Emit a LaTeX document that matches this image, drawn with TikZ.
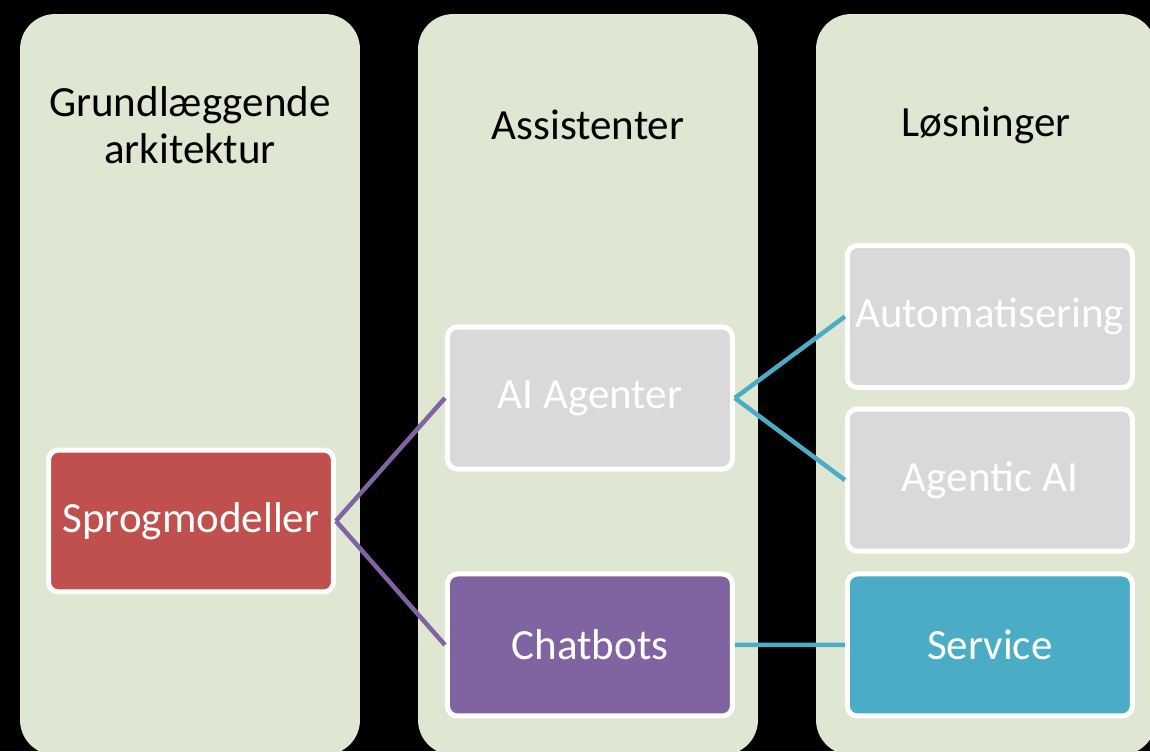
\documentclass[tikz,border=0pt]{standalone}
\usepackage{fontspec}
\setmainfont{Carlito}
\usetikzlibrary{positioning}
\definecolor{fondo}{RGB}{223,231,210}
\definecolor{rojo}{RGB}{192,80,77}
\definecolor{morado}{RGB}{128,100,162}
\definecolor{turquesa}{RGB}{75,172,198}
\definecolor{gris}{RGB}{217,217,217}
\tikzset{
	x=0.02cm, y=-0.02cm, % Un pixel de la imagen
	node distance=3cm, % Distancia entre nodos
	columna/.style={fill=fondo, rounded corners=0.7cm, minimum width=6.8cm, minimum height=14.82cm}, % Columnas de fondo
	titulo/.style={align=center, text=black, font=\fontsize{24.5}{27}\selectfont}, % Titulos de las columnas
	caja/.style={draw=white, line width=0.1cm, rounded corners=0.2cm, minimum width=5.7cm, minimum height=2.84cm, text=white, font=\fontsize{24.5}{27}\selectfont}, % Cajas
	enlace/.style={line width=0.09cm} % Lineas entre cajas
}

\begin{document}
\begin{tikzpicture}
	\path[use as bounding box, fill=black] (0,0) rectangle (1150,751);
	\node[columna] (col1) at (190,384.5) {};
	\node[columna] (col2) at (588,384.5) {};
	\node[columna] (col3) at (986,384.5) {};
	\node[titulo] (t1) at (190,125) {Grundlæggende\\arkitektur};
	\node[titulo] (t2) at (588,125) {Assistenter};
	\node[titulo] (t3) at (986,125) {Løsninger};
	\node[caja, fill=rojo] (sprog) at (191,521) {Sprogmodeller};
	\node[caja, fill=gris, on grid, above right=2.46cm and 7.98cm of sprog] (agenter) {AI Agenter};
	\node[caja, fill=morado, on grid, below=4.94cm of agenter] (chat) {Chatbots};
	\node[caja, fill=gris, on grid, above right=1.63cm and 8cm of agenter] (auto) {Automatisering};
	\node[caja, fill=gris, on grid, below=3.27cm of auto] (agentic) {Agentic AI};
	\node[caja, fill=turquesa, on grid, right=8cm of chat] (service) {Service};
	\draw[enlace, morado]	(sprog.east) -- (agenter.west)
			(sprog.east) -- (chat.west);
	\draw[enlace, turquesa]	(agenter.east) -- (auto.west)
			(agenter.east) -- (agentic.west)
			(chat.east) -- (service.west);
\end{tikzpicture}
\end{document}
